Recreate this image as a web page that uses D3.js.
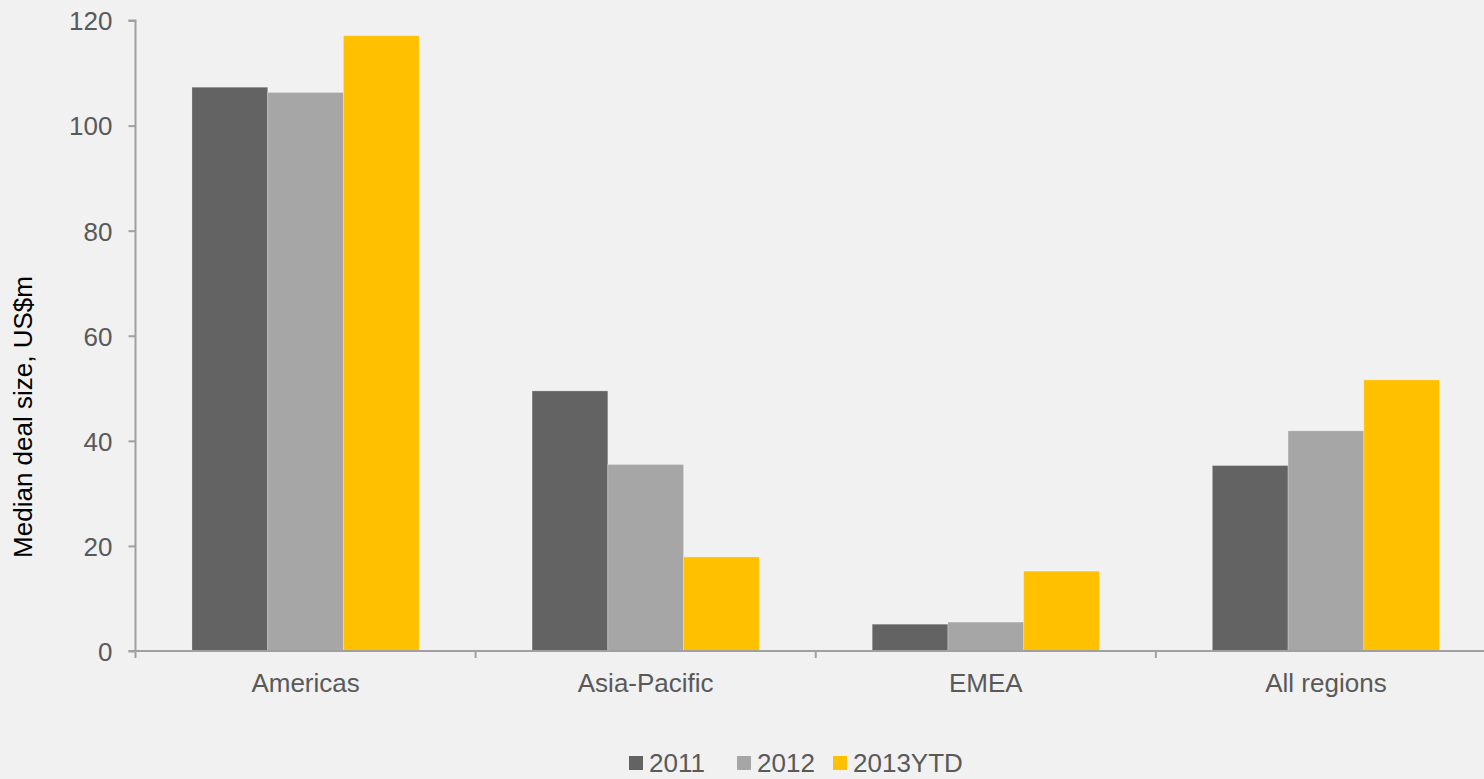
<!DOCTYPE html>
<html>
<head>
<meta charset="utf-8">
<script src="https://cdn.jsdelivr.net/npm/d3@7"></script>
<style>
  html, body { margin: 0; padding: 0; background: #f1f1f1; }
  svg { display: block; }
  text { font-family: "Liberation Sans", Arial, sans-serif; }
</style>
</head>
<body>
<svg id="chart" width="1484" height="779"></svg>
<script>
// Median deal size by region, US$m
const regions = ["Americas", "Asia-Pacific", "EMEA", "All regions"];
const seriesNames = ["2011", "2012", "2013YTD"];
const values2011 = [107.3, 49.5, 5.1, 35.3];
const values2012 = [106.3, 35.5, 5.5, 41.9];
const values2013 = [117.1, 17.9, 15.2, 51.6];
const yTicks = [0, 20, 40, 60, 80, 100, 120];
const seriesColors = ["#636363", "#a6a6a6", "#ffc000"];

const seriesValues = [values2011, values2012, values2013];

const svg = d3.select("#chart");
const W = 1484, H = 779;

svg.append("rect").attr("width", W).attr("height", H).attr("fill", "#f1f1f1");

const plot = { left: 135.5, right: 1496, top: 20.5, bottom: 651 };

const x0 = d3.scaleBand()
  .domain(regions)
  .range([plot.left, plot.right])
  .paddingInner(0.332)
  .paddingOuter(0.166);

const x1 = d3.scaleBand()
  .domain(seriesNames)
  .range([0, x0.bandwidth()]);

const y = d3.scaleLinear()
  .domain([0, 120])
  .range([plot.bottom, plot.top]);

const axisColor = "#a0a0a0";
const textColor = "#595959";

// Bars
const groups = svg.append("g")
  .selectAll("g")
  .data(regions)
  .join("g")
  .attr("transform", d => `translate(${x0(d)},0)`);

groups.selectAll("rect")
  .data((region, i) => seriesNames.map((s, k) => ({ s, k, v: seriesValues[k][i] })))
  .join("rect")
  .attr("x", d => x1(d.s))
  .attr("width", x1.bandwidth())
  .attr("y", d => y(d.v))
  .attr("height", d => y(0) - y(d.v))
  .attr("fill", d => seriesColors[d.k])
  .attr("stroke", "rgba(255,255,255,0.25)")
  .attr("stroke-width", 1);

// Y axis
const yAxis = svg.append("g")
  .attr("transform", `translate(${plot.left},0)`)
  .call(d3.axisLeft(y).tickValues(yTicks).tickSize(7).tickPadding(16).tickFormat(d3.format("d")));
yAxis.select(".domain").attr("stroke", axisColor).attr("stroke-width", 2)
  .attr("d", `M-7,${plot.top}H0V${plot.bottom}`);
yAxis.selectAll(".tick line").attr("stroke", axisColor).attr("stroke-width", 2);
yAxis.selectAll(".tick text")
  .attr("fill", textColor)
  .attr("font-size", 26)
  .attr("dy", "0.36em");

// X axis with ticks at category boundaries
const xAxisG = svg.append("g").attr("transform", `translate(0,${plot.bottom})`);
xAxisG.append("line")
  .attr("x1", plot.left - 7).attr("x2", W)
  .attr("stroke", axisColor).attr("stroke-width", 2);
const step = x0.step();
const boundaries = d3.range(regions.length + 1).map(i => plot.left + i * step);
xAxisG.selectAll("line.tk")
  .data(boundaries)
  .join("line")
  .attr("class", "tk")
  .attr("x1", d => d).attr("x2", d => d)
  .attr("y1", 0).attr("y2", 7)
  .attr("stroke", axisColor).attr("stroke-width", 2);
xAxisG.selectAll("text")
  .data(regions)
  .join("text")
  .attr("x", d => x0(d) + x0.bandwidth() / 2)
  .attr("y", 41)
  .attr("text-anchor", "middle")
  .attr("fill", textColor)
  .attr("font-size", 26)
  .text(d => d);

// Y axis title
svg.append("text")
  .attr("transform", `translate(32,417) rotate(-90)`)
  .attr("text-anchor", "middle")
  .attr("fill", "#000")
  .attr("font-size", 26)
  .text("Median deal size, US$m");

// Legend
const legendOffsets = [0, 108, 204];
const legend = svg.append("g").attr("transform", "translate(629,756)");
const items = legend.selectAll("g")
  .data(seriesNames)
  .join("g")
  .attr("transform", (d, i) => `translate(${legendOffsets[i]},0)`);
items.append("rect")
  .attr("width", 14).attr("height", 14)
  .attr("fill", (d, i) => seriesColors[i]);
items.append("text")
  .attr("x", 20)
  .attr("y", 16)
  .attr("fill", textColor)
  .attr("font-size", 26)
  .text(d => d);
</script>
</body>
</html>
